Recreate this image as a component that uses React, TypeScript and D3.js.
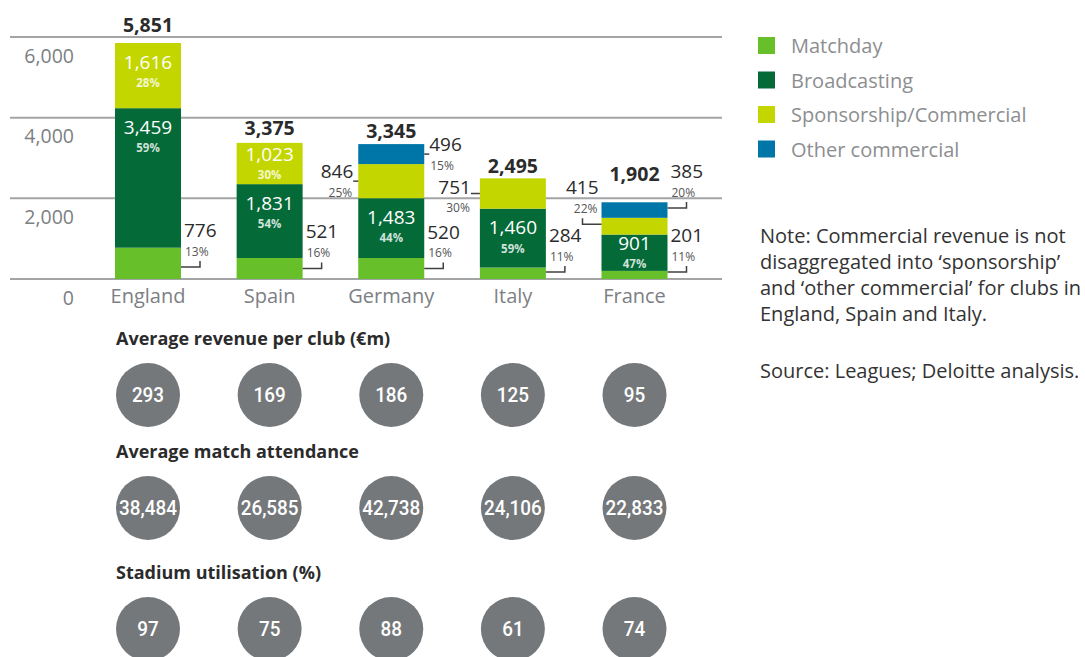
import React from "react";
import * as d3 from "d3";

// ---------- data ----------
const countries = ["England", "Spain", "Germany", "Italy", "France"];
const matchday = [776, 521, 520, 284, 201];
const broadcasting = [3459, 1831, 1483, 1460, 901];
const sponsorship = [1616, 1023, 846, 751, 415];
const otherCommercial = [0, 0, 496, 0, 385];
const matchdayPct = [13, 16, 16, 11, 11];
const broadcastingPct = [59, 54, 44, 59, 47];
const sponsorshipPct = [28, 30, 25, 30, 22];
const otherPct = [0, 0, 15, 0, 20];
const totals = [5851, 3375, 3345, 2495, 1902];
const yTicks = [0, 2000, 4000, 6000];
const avgRevenue = [293, 169, 186, 125, 95];
const avgAttendance = [38484, 26585, 42738, 24106, 22833];
const stadiumUtil = [97, 75, 88, 61, 74];

const seriesKeys = ["matchday", "broadcasting", "sponsorship", "other"];
const seriesNames = ["Matchday", "Broadcasting", "Sponsorship/Commercial", "Other commercial"];
const seriesColors = ["#67bf2a", "#046a38", "#c4d600", "#0076a8"];

const rows = countries.map((c, i) => ({
  country: c,
  matchday: matchday[i],
  broadcasting: broadcasting[i],
  sponsorship: sponsorship[i],
  other: otherCommercial[i],
}));
const pcts: Record<string, number[]> = {
  matchday: matchdayPct,
  broadcasting: broadcastingPct,
  sponsorship: sponsorshipPct,
  other: otherPct,
};

// labels placed inside bars: [key, countryIndex]
const insideLabels: [string, number][] = [
  ["broadcasting", 0], ["broadcasting", 1], ["broadcasting", 2], ["broadcasting", 3], ["broadcasting", 4],
  ["sponsorship", 0], ["sponsorship", 1],
];
// callouts outside bars
const callouts: { key: string; i: number; side: "left" | "right"; bracket: boolean; dy?: number; len?: number }[] = [
  { key: "matchday", i: 0, side: "right", bracket: true },
  { key: "matchday", i: 1, side: "right", bracket: true },
  { key: "matchday", i: 2, side: "right", bracket: true },
  { key: "matchday", i: 3, side: "right", bracket: true },
  { key: "matchday", i: 4, side: "right", bracket: true },
  { key: "sponsorship", i: 2, side: "left", bracket: false },
  { key: "other", i: 2, side: "right", bracket: false },
  { key: "sponsorship", i: 3, side: "left", bracket: false, dy: 3, len: 9 },
  { key: "sponsorship", i: 4, side: "left", bracket: true },
  { key: "other", i: 4, side: "right", bracket: true },
];
const totalLabelDy = [-19, -15, -14, -13, -29];

const noteLines = [
  "Note: Commercial revenue is not",
  "disaggregated into \u2018sponsorship\u2019",
  "and \u2018other commercial\u2019 for clubs in",
  "England, Spain and Italy.",
];
const sourceText = "Source: Leagues; Deloitte analysis.";

const statRows = [
  { title: "Average revenue per club (\u20acm)", values: avgRevenue },
  { title: "Average match attendance", values: avgAttendance },
  { title: "Stadium utilisation (%)", values: stadiumUtil },
];

// ---------- layout ----------
const W = 1085;
const H = 657;
const FONT = "'Open Sans', 'Noto Sans', sans-serif";
const GRAY = "#7d8083";
const DARK = "#2b2b2b";
const barW = 66;
const VAL_FS = 18.5;
const PCT_FS = 11.5;

const x = d3.scalePoint<string>().domain(countries).range([148, 634.5]);
const y = d3.scaleLinear().domain([0, 6000]).range([279, 37]);
const fmt = d3.format(",");

export default function App() {
  const stack = d3.stack<any>().keys(seriesKeys)(rows as any);

  const seg = (key: string, i: number) => {
    const s = stack[seriesKeys.indexOf(key)][i];
    return { top: y(s[1]), bottom: y(s[0]) };
  };

  return (
    <svg width={W} height={H} style={{ position: "absolute", left: 0, top: 0, background: "#fff" }} fontFamily={FONT}>
      {/* gridlines */}
      {yTicks.map((t) => (
        <g key={t}>
          <line x1={10} x2={722} y1={y(t)} y2={y(t)} stroke="#a3a4a6" strokeWidth={2} />
          <text x={74} y={y(t) + 18} textAnchor="end" dominantBaseline="central" fontSize={19.5} fill={GRAY}>
            {fmt(t)}
          </text>
        </g>
      ))}

      {/* bars */}
      {stack.map((layer, k) => (
        <g key={layer.key} fill={seriesColors[k]}>
          {layer.map((d, i) =>
            d[1] - d[0] > 0 ? (
              <rect key={i} x={x(countries[i])! - barW / 2} width={barW} y={y(d[1])} height={y(d[0]) - y(d[1])} />
            ) : null
          )}
        </g>
      ))}

      {/* inside labels */}
      {insideLabels.map(([key, i]) => {
        const s = seg(key, i);
        const mid = (s.top + s.bottom) / 2;
        const vy = Math.min(s.top + 18.5, mid - 10);
        const row: any = rows[i];
        return (
          <g key={key + i}>
            <text x={x(countries[i])} y={vy} textAnchor="middle" dominantBaseline="central" fontSize={VAL_FS + 0.5} fill="#fff">
              {fmt(row[key])}
            </text>
            <text x={x(countries[i])} y={vy + 21} textAnchor="middle" dominantBaseline="central" fontSize={PCT_FS} fontWeight={700} fill="#fff" fillOpacity={0.82}>
              {pcts[key][i]}%
            </text>
          </g>
        );
      })}

      {/* callouts */}
      {callouts.map((c) => {
        const s = seg(c.key, c.i);
        const mid = (s.top + s.bottom) / 2;
        const cx = x(countries[c.i])!;
        const edge = c.side === "right" ? cx + barW / 2 : cx - barW / 2;
        const dir = c.side === "right" ? 1 : -1;
        const row: any = rows[c.i];
        let path: string;
        let tx: number;
        let vy: number;
        let py: number;
        if (c.bracket) {
          const cy = c.key === "matchday" ? Math.min(Math.max(mid, 267), 272) : mid - 2;
          const far = edge + dir * 19;
          path = `M${edge},${cy}H${far}V${cy - 6}`;
          tx = edge + dir * 3;
          vy = cy - 37;
          py = cy - 16;
        } else {
          const len = c.len ?? 5;
          const dy = c.dy ?? 0;
          path = `M${edge},${mid}H${edge + dir * len}`;
          tx = edge + dir * len;
          vy = mid - 10 + dy;
          py = mid + 11 + dy;
        }
        const anchor = c.side === "right" ? "start" : "end";
        return (
          <g key={c.key + c.i}>
            <path d={path} fill="none" stroke="#404040" strokeWidth={1.5} />
            <text x={tx} y={vy} textAnchor={anchor} dominantBaseline="central" fontSize={VAL_FS + 0.5} fill={DARK}>
              {fmt(row[c.key])}
            </text>
            <text x={tx + dir * 1} y={py} textAnchor={anchor} dominantBaseline="central" fontSize={PCT_FS + 0.5} fill="#555">
              {pcts[c.key][c.i]}%
            </text>
          </g>
        );
      })}

      {/* totals */}
      {totals.map((t, i) => (
        <text key={i} x={x(countries[i])} y={y(t) + totalLabelDy[i]} textAnchor="middle" dominantBaseline="central" fontSize={19.5} fontWeight={700} fill={DARK}>
          {fmt(t)}
        </text>
      ))}

      {/* category labels */}
      {countries.map((c) => (
        <text key={c} x={x(c)} y={295} textAnchor="middle" dominantBaseline="central" fontSize={20} fill={GRAY}>
          {c}
        </text>
      ))}

      {/* legend */}
      {seriesNames.map((n, k) => (
        <g key={n} transform={`translate(758, ${37 + k * 34.5})`}>
          <rect width={17} height={17} fill={seriesColors[k]} />
          <text x={33} y={8.5} dominantBaseline="central" fontSize={20} fill="#8c8e90">
            {n}
          </text>
        </g>
      ))}

      {/* note */}
      {noteLines.map((l, k) => (
        <text key={k} x={760} y={235 + k * 26} dominantBaseline="central" fontSize={20} fill="#333">
          {l}
        </text>
      ))}
      <text x={760} y={370} dominantBaseline="central" fontSize={20} fill="#333">
        {sourceText}
      </text>

      {/* stats rows */}
      {statRows.map((r, k) => {
        const hy = [338, 451, 572][k];
        const cyc = hy + 57;
        return (
          <g key={r.title}>
            <text x={116} y={hy} dominantBaseline="central" fontSize={18} fontWeight={700} fill={DARK}>
              {r.title}
            </text>
            {r.values.map((v, i) => (
              <g key={i} transform={`translate(${x(countries[i])}, ${cyc})`}>
                <circle r={32} fill="#75787b" />
                <text transform="scale(0.9,1)" textAnchor="middle" dominantBaseline="central" fontSize={21} fontWeight={500} fill="#fff" fontFamily="Roboto, sans-serif">
                  {fmt(v)}
                </text>
              </g>
            ))}
          </g>
        );
      })}
    </svg>
  );
}
